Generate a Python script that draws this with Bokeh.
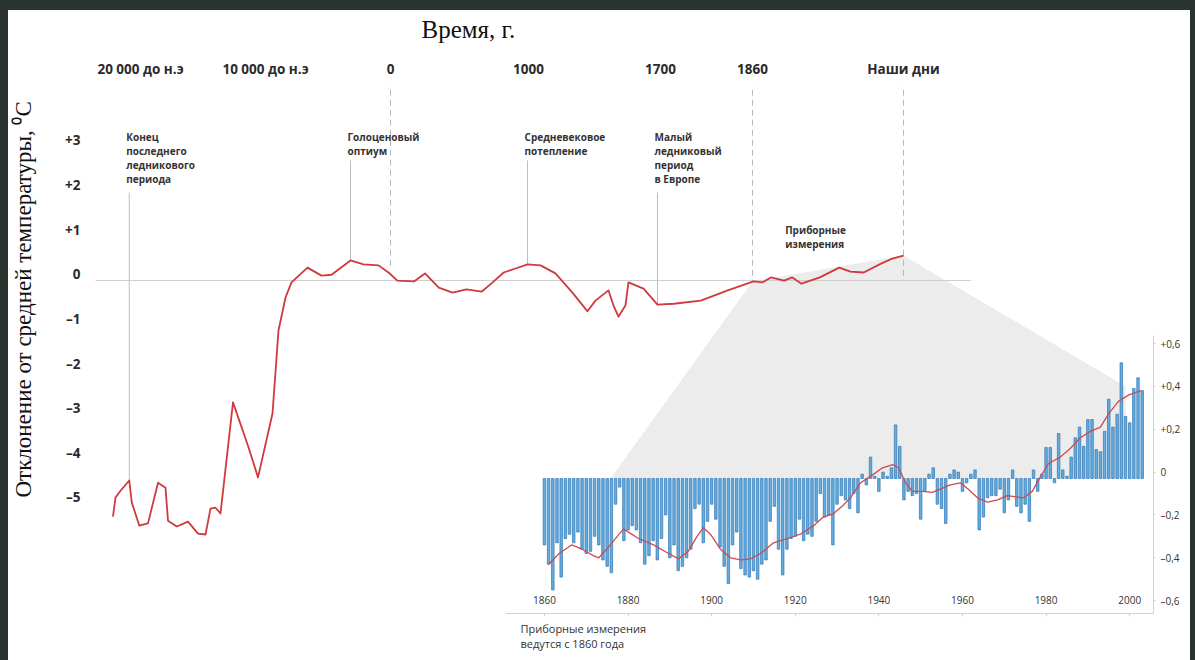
import numpy as np
from bokeh.plotting import figure
from bokeh.models import Range1d, LinearAxis, FixedTicker, Title
from bokeh.core.properties import value
from bokeh.embed import file_html
from bokeh.resources import INLINE

# ---------------- data ----------------
epoch_years = [-20000, -10000, 0, 1000, 1700, 1860, 2008]
epoch_labels = ["20 000 до н.э", "10 000 до н.э", "0", "1000", "1700", "1860", "Наши дни"]
dashed_epochs = [0, 1860, 2008]
dashed_ends = [0.25, 0.0, 0.0]

temp_ticks = [3, 2, 1, 0, -1, -2, -3, -4, -5]
temp_tick_labels = ["+3", "+2", "+1", "0", "–1", "–2", "–3", "–4", "–5"]

main_years = [-22200, -22000, -21600, -20900, -20700, -20100, -19400, -18600, -18000, -17800,
              -17100, -16200, -15400, -14800, -14400, -14000, -13600, -12600, -11400, -10600,
              -9440, -8960, -8400, -7920, -6640, -5520, -4720, -3200, -2160, -960,
              -160, 50, 170, 250, 350, 450, 550, 660, 740, 820,
              906, 993, 1064, 1143, 1233, 1313, 1355, 1424, 1451, 1477,
              1514, 1530, 1610, 1684, 1723, 1770, 1817, 1861, 1870, 1878,
              1891, 1899, 1908, 1926, 1945, 1956, 1969, 1986, 1997, 2008]
main_temps = [-5.29, -4.86, -4.71, -4.48, -4.97, -5.49, -5.44, -4.53, -4.64, -5.38,
              -5.51, -5.40, -5.67, -5.69, -5.11, -5.09, -5.22, -2.73, -3.70, -4.41,
              -2.98, -1.12, -0.38, -0.04, 0.29, 0.11, 0.13, 0.45, 0.36, 0.34,
              0.18, 0.0, -0.02, 0.16, -0.16, -0.27, -0.20, -0.25, -0.04, 0.18,
              0.27, 0.36, 0.34, 0.16, -0.27, -0.69, -0.45, -0.22, -0.56, -0.81,
              -0.56, -0.04, -0.18, -0.54, -0.52, -0.45, -0.22, -0.02, -0.04, 0.07,
              0.0, 0.07, -0.07, 0.07, 0.29, 0.20, 0.18, 0.38, 0.49, 0.56]
zero_line_years = [-23600, 2074]

event_texts = ["Конец\nпоследнего\nледникового\nпериода",
               "Голоценовый\nоптиум",
               "Средневековое\nпотепление",
               "Малый\nледниковый\nпериод\nв Европе"]
event_years = [-20900, -3200, 993, 1684]
event_temps = [-4.48, 0.45, 0.36, -0.54]
event_line_tops = [1.97, 2.69, 2.69, 1.97]
event_text_top = 3.38
instr_text = "Приборные\nизмерения"
instr_year = 1892
instr_top = 1.30

x_title = "Время, г."
y_title = "Отклонение от средней температуры, ⁰С"
caption = "Приборные измерения\nведутся с 1860 года"

bar_years = list(range(1860, 2004))
bar_anoms = [
    -0.31, -0.40, -0.52, -0.30, -0.46, -0.28, -0.26, -0.30, -0.25, -0.33,
    -0.35, -0.34, -0.27, -0.31, -0.38, -0.41, -0.44, -0.12, -0.04, -0.29,
    -0.24, -0.22, -0.24, -0.30, -0.40, -0.36, -0.29, -0.38, -0.28, -0.17,
    -0.37, -0.31, -0.43, -0.41, -0.37, -0.33, -0.14, -0.12, -0.30, -0.20,
    -0.12, -0.19, -0.32, -0.41, -0.49, -0.31, -0.25, -0.42, -0.45, -0.46,
    -0.43, -0.47, -0.40, -0.38, -0.20, -0.13, -0.33, -0.45, -0.33, -0.28,
    -0.27, -0.19, -0.29, -0.26, -0.27, -0.20, -0.07, -0.18, -0.17, -0.31,
    -0.12, -0.08, -0.10, -0.14, -0.07, -0.16, 0.02, -0.03, 0.10, 0.01,
    -0.06, 0.03, 0.01, 0.05, 0.25, 0.15, -0.10, -0.06, -0.08, -0.07,
    -0.19, -0.06, 0.02, 0.05, -0.12, -0.14, -0.21, 0.02, 0.04, 0.03,
    -0.06, -0.02, 0.02, 0.04, -0.24, -0.18, -0.09, -0.08, -0.08, -0.05,
    -0.16, -0.10, 0.04, -0.13, -0.16, -0.12, -0.20, 0.04, -0.06, 0.02,
    0.145, 0.145, -0.02, 0.21, 0.04, 0.01, 0.10, 0.19, 0.24, 0.15,
    0.275, 0.275, 0.135, 0.125, 0.22, 0.37, 0.24, 0.30, 0.54, 0.29,
    0.26, 0.42, 0.47, 0.41]

smooth_years = [1861, 1863.5, 1866.5, 1869, 1871.7, 1873, 1875.3, 1878.9, 1882.5, 1886.1,
                1889.7, 1892.1, 1894.4, 1896.5, 1898, 1899.7, 1902.1, 1904.5, 1906.9, 1909.3,
                1911.7, 1914.8, 1918.1, 1921.2, 1924.4, 1926.7, 1929.1, 1931.2, 1933.2, 1935.6,
                1938, 1940.9, 1943.3, 1944.7, 1946.4, 1948, 1950.4, 1952.8, 1954.7, 1957.1,
                1959.5, 1961.4, 1963.6, 1966, 1968.4, 1970.7, 1974.6, 1976.7, 1978.7, 1980.6,
                1983.4, 1985.8, 1988.2, 1990.6, 1993, 1994.9, 1997.3, 1999.8, 2002.7]
smooth_anoms = [-0.40, -0.35, -0.31, -0.33, -0.36, -0.37, -0.32, -0.235, -0.28, -0.31,
                -0.35, -0.375, -0.34, -0.27, -0.23, -0.26, -0.33, -0.37, -0.38, -0.375,
                -0.35, -0.30, -0.28, -0.26, -0.22, -0.18, -0.165, -0.13, -0.09, -0.02,
                0.01, 0.05, 0.065, 0.05, -0.02, -0.06, -0.06, -0.065, -0.05, -0.03,
                -0.02, -0.05, -0.09, -0.11, -0.10, -0.08, -0.09, -0.06, 0.01, 0.07,
                0.10, 0.14, 0.19, 0.22, 0.24, 0.30, 0.36, 0.39, 0.41]

inset_year_ticks = [1860, 1880, 1900, 1920, 1940, 1960, 1980, 2000]
inset_anom_ticks = [0.6, 0.4, 0.2, 0.0, -0.2, -0.4, -0.6]
inset_anom_labels = ["+0,6", "+0,4", "+0,2", "0", "–0,2", "–0,4", "–0,6"]

# wedge: from main curve (1860 .. now) to the inset (1876 .. 1999)
wedge_main_years = [1860, 2008]
wedge_main_temps = [-0.02, 0.56]
wedge_inset_years = [1999, 1999, 1875.8]
wedge_inset_anoms = [0.43, 0.0, 0.0]

# ---------------- layout ----------------
W, H = 1182, 650
EPOCH_POS = [50, 175, 300, 438, 570, 662, 813]   # schematic axis positions of labelled epochs
MAIN_X = (0, 1063)
MAIN_Y = (-7.46, 4.37)
MAIN_Y_LAB = (-7.60, 4.23)
INS_X = (1751.4, 2005.7)
INS_Y = (-0.630, 1.834)
INS_Y_LAB = (-0.660, 1.804)

SANS = "Open Sans"
SERIF = "Liberation Serif"
RED = "#d0393e"
TXT = "#2a2a2a"


def year_to_pos(yr):
    yr = np.asarray(yr, dtype=float)
    pos = np.interp(yr, epoch_years, EPOCH_POS)
    s0 = (EPOCH_POS[1] - EPOCH_POS[0]) / (epoch_years[1] - epoch_years[0])
    s1 = (EPOCH_POS[-1] - EPOCH_POS[-2]) / (epoch_years[-1] - epoch_years[-2])
    lo = yr < epoch_years[0]
    hi = yr > epoch_years[-1]
    pos[lo] = EPOCH_POS[0] + (yr[lo] - epoch_years[0]) * s0
    pos[hi] = EPOCH_POS[-1] + (yr[hi] - epoch_years[-1]) * s1
    return pos


def inset_to_main(xs, ys):
    xs = np.asarray(xs, float)
    ys = np.asarray(ys, float)
    mx = MAIN_X[0] + (xs - INS_X[0]) / (INS_X[1] - INS_X[0]) * (MAIN_X[1] - MAIN_X[0])
    my = MAIN_Y[0] + (ys - INS_Y[0]) / (INS_Y[1] - INS_Y[0]) * (MAIN_Y[1] - MAIN_Y[0])
    return mx, my


p = figure(width=W, height=H, output_backend="svg", toolbar_location=None,
           x_range=Range1d(*MAIN_X), y_range=Range1d(*MAIN_Y),
           x_axis_location=None, y_axis_location=None, title_location=None,
           min_border_left=82, min_border_right=37, min_border_top=75, min_border_bottom=47)
p.outline_line_color = None
p.grid.visible = False
p.background_fill_color = "white"
p.border_fill_color = "white"
p.extra_x_ranges = {"ix": Range1d(*INS_X)}
p.extra_y_ranges = {"iy": Range1d(*INS_Y), "iylab": Range1d(*INS_Y_LAB), "tlab": Range1d(*MAIN_Y_LAB)}

# top epoch axis (a blank 1px axis label spaces the title away from the tick labels)
top_ax = LinearAxis(ticker=FixedTicker(ticks=EPOCH_POS, minor_ticks=[]),
                    major_label_overrides={pos: lab for pos, lab in zip(EPOCH_POS, epoch_labels)},
                    axis_line_color=None, major_tick_line_color=None, minor_tick_line_color=None,
                    major_tick_in=0, major_tick_out=0,
                    major_label_standoff=8, major_label_text_font=SANS,
                    major_label_text_font_size="13.5px", major_label_text_font_style="bold",
                    major_label_text_color=TXT,
                    axis_label=" ", axis_label_text_font_size="1px", axis_label_standoff=8)
p.add_layout(top_ax, "above")
p.add_layout(Title(text=x_title, align="left", offset=331, standoff=0, vertical_align="top",
                   text_font=SERIF, text_font_size="25px", text_font_style="normal",
                   text_color="#111111"), "above")

# left temperature axis
left_ax = LinearAxis(y_range_name="tlab", ticker=FixedTicker(ticks=temp_ticks, minor_ticks=[]),
                     major_label_overrides={t: l for t, l in zip(temp_ticks, temp_tick_labels)},
                     axis_line_color=None, major_tick_line_color=None, minor_tick_line_color=None,
                     major_tick_in=0, major_tick_out=0,
                     major_label_standoff=10, major_label_text_font=SANS,
                     major_label_text_font_size="13.5px", major_label_text_font_style="bold",
                     major_label_text_color=TXT,
                     axis_label=" ", axis_label_text_font_size="1px", axis_label_standoff=20)
p.add_layout(left_ax, "left")
p.add_layout(Title(text=y_title, align="left", offset=116, standoff=0, vertical_align="top",
                   text_font=SERIF, text_font_size="23px", text_font_style="normal",
                   text_color="#111111"), "left")

# inset right axis
right_ax = LinearAxis(y_range_name="iylab", bounds=(-0.66, 0.637),
                      ticker=FixedTicker(ticks=inset_anom_ticks, minor_ticks=[]),
                      major_label_overrides={t: l for t, l in zip(inset_anom_ticks, inset_anom_labels)},
                      axis_line_color="#d2d2d2", major_tick_line_color="#d2d2d2",
                      major_tick_in=0, major_tick_out=2, minor_tick_line_color=None,
                      major_label_standoff=5, major_label_text_font=SANS,
                      major_label_text_font_size="10px", major_label_text_color="#333333")
p.add_layout(right_ax, "right")

# inset bottom axis (labels sit above the line)
bot_ax = LinearAxis(x_range_name="ix", bounds=(1850.7, 2005.7),
                    ticker=FixedTicker(ticks=inset_year_ticks, minor_ticks=[]),
                    axis_line_color="#d2d2d2", major_tick_line_color="#d2d2d2",
                    major_tick_in=0, major_tick_out=3, minor_tick_line_color=None,
                    major_label_standoff=-21, major_label_text_font=SANS,
                    major_label_text_font_size="10px", major_label_text_color="#333333")
p.add_layout(bot_ax, "below")
p.add_layout(Title(text=caption, align="left", offset=430, standoff=12, vertical_align="bottom",
                   text_font=SANS, text_font_size="11px", text_font_style="normal",
                   text_line_height=0.95, text_color="#333333"), "below")

# wedge
wmx = list(year_to_pos(wedge_main_years))
wmy = list(wedge_main_temps)
ix, iy = inset_to_main(wedge_inset_years, wedge_inset_anoms)
p.patch(wmx + list(ix), wmy + list(iy), fill_color="#ececec", line_color=None)

# zero line of main chart
p.line(year_to_pos(zero_line_years), [0, 0], line_color="#cfcfcf", line_width=1)

# dashed epoch lines
ep = year_to_pos(dashed_epochs)
p.segment(x0=ep, y0=[4.5] * len(ep), x1=ep, y1=dashed_ends,
          line_color="#b8b8b8", line_width=1, line_dash="6 4")

# event lines
evx = year_to_pos(event_years)
p.segment(x0=evx, y0=event_line_tops, x1=evx, y1=event_temps, line_color="#bdbdbd", line_width=1)

# event texts
p.text(x=evx, y=[event_text_top] * len(evx), text=event_texts, x_offset=-3,
       text_font=value(SANS), text_font_size="10px", text_font_style="bold", text_color="#333333",
       text_baseline="top", text_align="left", text_line_height=1.0)
p.text(x=year_to_pos([instr_year]), y=[instr_top], text=[instr_text],
       text_font=value(SANS), text_font_size="10px", text_font_style="bold", text_color="#333333",
       text_baseline="top", text_align="left", text_line_height=1.0)

# inset bars and smoothed line
p.vbar(x=bar_years, top=bar_anoms, bottom=0, width=0.6, x_range_name="ix", y_range_name="iy",
       fill_color="#62aee0", line_color="#2f74b3", line_width=0.7)
p.line(smooth_years, smooth_anoms, x_range_name="ix", y_range_name="iy",
       line_color="#cf4a50", line_width=1.3, line_join="round")

# main curve
p.line(year_to_pos(main_years), main_temps, line_color=RED, line_width=1.8, line_join="round")

html = file_html(p, INLINE, title="Температура")
html = html.replace("</head>",
                    "<style>html,body{background:#ffffff;}"
                    "body{border-style:solid;border-color:#29342f;border-width:10px 5px 0 8px;}"
                    "</style></head>", 1)
open("out.html", "w").write(html)
